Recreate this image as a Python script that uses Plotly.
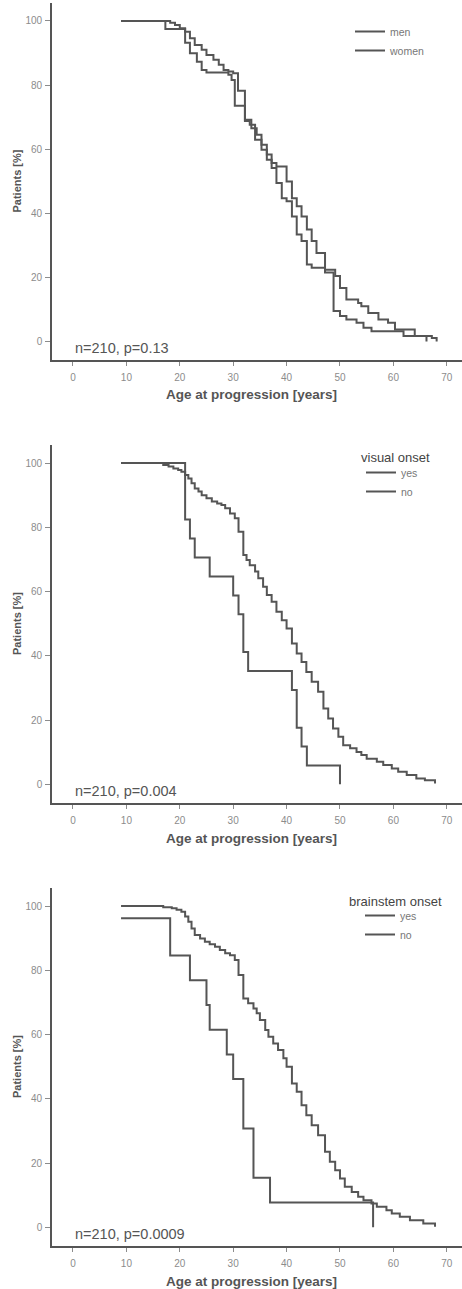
import plotly.graph_objects as go

# ---- Panel 1: sex ----
men_age = [9.0, 17.3, 21.0, 21.9, 23.2, 24.1, 25.0, 29.1, 29.7, 30.3, 32.2, 33.1, 34.1, 35.3,
           36.3, 37.2, 38.1, 39.1, 40.0, 41.0, 41.9, 42.8, 43.8, 44.7, 47.2, 48.8, 50.0, 51.2,
           53.1, 54.4, 55.9, 61.9, 66.2]
men_surv = [100, 97.5, 93.2, 89.9, 87.3, 84.7, 83.9, 83.2, 81.6, 73.5, 68.8, 67.6, 62.9, 59.8,
            56.7, 54.1, 49.4, 44.7, 43.7, 39.0, 33.4, 31.3, 24.0, 23.0, 21.5, 9.5, 7.9, 6.8,
            5.8, 4.3, 3.2, 1.7, 0]
women_age = [9.0, 18.2, 19.1, 20.0, 21.0, 21.9, 22.8, 24.1, 25.0, 26.3, 27.3, 28.2, 29.1, 30.0,
             30.9, 32.2, 33.4, 34.4, 35.3, 36.3, 37.2, 38.1, 40.0, 41.0, 41.9, 42.8, 43.8, 44.7,
             45.6, 47.2, 49.1, 50.0, 51.2, 53.4, 54.0, 55.3, 57.2, 59.0, 60.3, 64.0, 67.2, 68.1]
women_surv = [100, 99.4, 98.7, 97.7, 96.6, 94.6, 92.5, 91.0, 89.4, 87.9, 86.3, 84.7, 84.2, 83.7,
              78.2, 69.2, 66.5, 64.5, 61.4, 58.3, 55.7, 54.6, 49.9, 44.7, 42.2, 39.0, 34.9, 31.3,
              27.6, 22.4, 20.4, 16.7, 13.1, 12.0, 11.0, 8.9, 6.8, 5.8, 3.7, 1.7, 1.1, 0]

# ---- Panel 2: visual onset ----
vis_yes_age = [9.0, 21.0, 21.9, 22.8, 25.6, 30.0, 31.0, 31.9, 32.8, 41.0, 41.9, 42.8, 43.8, 50.0]
vis_yes_surv = [100, 82.4, 76.5, 70.6, 64.7, 58.8, 52.9, 41.2, 35.3, 29.4, 17.6, 11.8, 5.9, 0]
vis_no_age = [9.0, 16.9, 17.9, 18.8, 19.7, 20.3, 21.0, 21.6, 22.2, 22.8, 23.5, 24.1, 25.0, 26.0,
              27.0, 27.8, 28.5, 29.4, 30.3, 31.0, 31.9, 32.5, 33.1, 34.1, 34.7, 35.6, 36.3, 37.2,
              38.1, 39.1, 40.0, 41.0, 41.9, 42.8, 43.7, 44.7, 45.9, 46.9, 47.8, 48.7, 49.7, 50.6,
              51.9, 53.1, 54.0, 55.0, 56.9, 58.1, 59.7, 60.9, 62.5, 64.3, 65.9, 67.8]
vis_no_surv = [100, 99.4, 98.9, 98.3, 97.8, 97.3, 96.3, 95.2, 93.7, 92.1, 91.1, 90.0, 89.0, 88.0,
               87.4, 86.9, 85.9, 84.3, 82.8, 78.6, 71.4, 69.8, 68.2, 66.2, 64.1, 61.5, 58.9, 56.8,
               53.7, 51.1, 48.5, 43.8, 40.7, 38.1, 35.0, 31.9, 28.8, 23.6, 20.5, 17.4, 14.8, 12.2,
               11.2, 10.1, 9.1, 8.0, 7.0, 6.0, 4.9, 3.9, 2.9, 1.8, 1.3, 0.3]

# ---- Panel 3: brainstem onset ----
bs_yes_age = [9.0, 18.2, 21.9, 25.0, 25.6, 28.8, 30.0, 31.9, 33.8, 36.9, 56.2]
bs_yes_surv = [96.2, 84.6, 76.9, 69.2, 61.5, 53.8, 46.2, 30.8, 15.4, 7.7, 0]
bs_no_age = [9.0, 16.9, 18.5, 19.4, 20.3, 21.0, 21.6, 22.2, 22.8, 23.8, 24.7, 25.6, 26.6, 27.5,
             28.5, 29.4, 30.3, 31.0, 31.9, 32.8, 33.8, 34.4, 35.0, 36.0, 36.6, 37.5, 38.4, 39.4,
             40.0, 41.0, 41.9, 42.8, 43.7, 44.7, 45.9, 47.2, 48.1, 49.1, 50.0, 50.9, 52.2, 53.4,
             54.4, 55.9, 56.9, 58.7, 59.7, 61.2, 63.1, 65.6, 67.8]
bs_no_surv = [100, 99.6, 99.3, 98.8, 98.2, 96.7, 95.1, 93.0, 91.0, 89.9, 88.9, 88.1, 87.3, 86.3,
              85.3, 84.7, 83.2, 78.5, 71.2, 69.7, 68.1, 66.6, 64.5, 61.4, 59.3, 57.2, 55.2, 52.6,
              50.0, 44.8, 42.2, 38.0, 34.9, 31.8, 28.7, 23.5, 20.4, 17.8, 15.2, 12.6, 11.0, 9.5,
              8.4, 7.4, 6.4, 5.3, 4.3, 3.3, 2.2, 1.2, 0.2]

x_ticks = [0, 10, 20, 30, 40, 50, 60, 70]
y_ticks = [0, 20, 40, 60, 80, 100]

stat_labels = ["n=210, p=0.13", "n=210, p=0.004", "n=210, p=0.0009"]
legend_titles = [None, "visual onset", "brainstem onset"]

W, H = 462, 1289
LINE = "#555555"
TICK = "#8c8c8c"
FONT = "Liberation Sans, Arial, sans-serif"

# panel plot areas in pixels (top, bottom)
panels = [(3, 360), (445, 803), (888, 1246)]
x_left_px = 52

panel_series = [
    [("men", men_age, men_surv), ("women", women_age, women_surv)],
    [("yes", vis_yes_age, vis_yes_surv), ("no", vis_no_age, vis_no_surv)],
    [("yes", bs_yes_age, bs_yes_surv), ("no", bs_no_age, bs_no_surv)],
]

# legend placements (px): left edge of the legend box, top of first entry
legend_pos = [(350, 17), (361, 458), (360, 901)]

fig = go.Figure()
layout = dict(
    width=W, height=H, margin=dict(l=0, r=0, t=0, b=0),
    paper_bgcolor="white", plot_bgcolor="white",
    font=dict(family=FONT, color=LINE),
    annotations=[],
)

for i, ((top, bot), series) in enumerate(zip(panels, panel_series)):
    k = "" if i == 0 else str(i + 1)
    leg = "legend" + k
    for name, age, surv in series:
        fig.add_trace(go.Scatter(
            x=age, y=surv, mode="lines", name=name, line_shape="hv",
            line=dict(color=LINE, width=2),
            xaxis="x" + k, yaxis="y" + k, legend=leg, hoverinfo="skip",
        ))
    dom_y = [1 - bot / H, 1 - top / H]
    layout["xaxis" + k] = dict(
        domain=[x_left_px / W, 1], range=[-3.93, 72.85], anchor="y" + k,
        tickvals=x_ticks, ticks="outside", ticklen=4, tickwidth=1, tickcolor=TICK,
        tickfont=dict(size=10, color=TICK), ticklabelstandoff=3,
        showline=True, linecolor=LINE, linewidth=1.6, showgrid=False, zeroline=False,
    )
    layout["yaxis" + k] = dict(
        domain=dom_y, range=[-5.8, 105.6], anchor="x" + k,
        tickvals=y_ticks, ticks="outside", ticklen=5, tickwidth=1, tickcolor=TICK,
        tickfont=dict(size=10, color=TICK), ticklabelstandoff=1,
        showline=True, linecolor=LINE, linewidth=1.6, showgrid=False, zeroline=False,
    )
    lx, ly = legend_pos[i]
    layout[leg] = dict(
        x=lx / W, y=1 - ly / H, xanchor="left", yanchor="top",
        bgcolor="rgba(0,0,0,0)", borderwidth=0,
        font=dict(size=10.5, color="#777777", family=FONT),
    )
    mid = (top + bot) / 2
    # y-axis title
    layout["annotations"].append(dict(
        text="<b>Patients [%]</b>", textangle=-90, xref="paper", yref="paper",
        x=17 / W, y=1 - mid / H, showarrow=False, xanchor="center", yanchor="middle",
        font=dict(size=11, color=LINE),
    ))
    # x-axis title
    layout["annotations"].append(dict(
        text="<b>Age at progression [years]</b>", xref="paper", yref="paper",
        x=251 / W, y=1 - (bot + 35) / H, showarrow=False, xanchor="center", yanchor="middle",
        font=dict(size=13.5, color=LINE),
    ))
    # group size and log-rank p value
    layout["annotations"].append(dict(
        text=stat_labels[i], xref="paper", yref="paper",
        x=73 / W, y=1 - (bot - 12) / H, showarrow=False, xanchor="left", yanchor="middle",
        font=dict(size=14.5, color=LINE),
    ))
    if legend_titles[i]:
        layout["annotations"].append(dict(
            text=legend_titles[i], xref="paper", yref="paper",
            x=395 / W, y=1 - (top + 13) / H, showarrow=False, xanchor="center", yanchor="middle",
            font=dict(size=13, color="#444444"),
        ))

fig.update_layout(**layout)
fig.write_html("out.html")
